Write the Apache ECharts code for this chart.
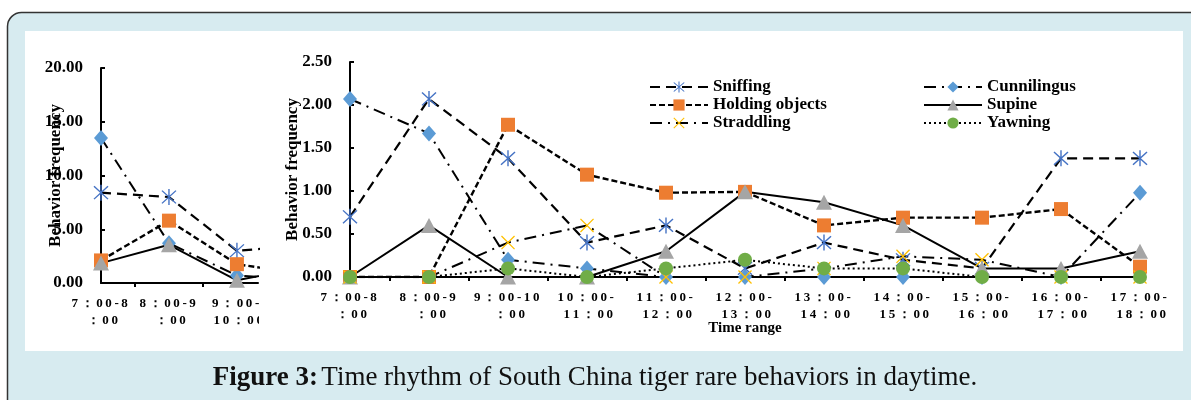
<!DOCTYPE html>
<html>
<head>
<meta charset="utf-8">
<script src="https://cdn.jsdelivr.net/npm/echarts@6/dist/echarts.min.js"></script>
<style>
  html, body { margin: 0; padding: 0; background: #fff; }
  #chart { width: 1191px; height: 400px; }
</style>
</head>
<body>
<div id="chart"></div>
<script>
/* time ranges on the x axis */
var cats = ['7：00-8\n：00', '8：00-9\n：00', '9：00-10\n：00', '10：00-\n11：00', '11：00-\n12：00',
    '12：00-\n13：00', '13：00-\n14：00', '14：00-\n15：00', '15：00-\n16：00', '16：00-\n17：00', '17：00-\n18：00'];
var leftCats = ['7：00-8\n：00', '8：00-9\n：00', '9：00-\n10：00'];

/* main chart (0 - 2.5) */
var sniffing    = [0.70, 2.07, 1.38, 0.40, 0.60, 0.10, 0.40, 0.20, 0.10, 1.38, 1.38];
var cunnilingus = [2.07, 1.67, 0.20, 0.10, 0, 0, 0, 0, 0, 0, 0.98];
var holding     = [0, 0, 1.77, 1.19, 0.98, 0.99, 0.60, 0.69, 0.69, 0.79, 0.12];
var supine      = [0, 0.60, 0, 0, 0.30, 0.99, 0.87, 0.60, 0.10, 0.10, 0.30];
var straddling  = [0, 0, 0.40, 0.60, 0, 0, 0.10, 0.24, 0.20, 0, 0];
var yawning     = [0, 0, 0.10, 0, 0.10, 0.20, 0.10, 0.10, 0, 0, 0];

/* cropped chart on the left (0 - 20) */
var leftSniffing    = [8.4, 8.0, 3.0, 3.5];
var leftCunnilingus = [13.5, 3.7, 0.7, 0.3];
var leftHolding     = [2.1, 5.8, 1.75, 0.8];
var leftSupine      = [1.85, 3.55, 0.25, 1.5];

var starPath = 'path://M9.2,0H10.8V20H9.2Z M2.57,1.43L18.57,17.43L17.43,18.57L1.43,2.57Z M17.43,1.43L18.57,2.57L2.57,18.57L1.43,17.43Z';
var crossPath = 'path://M1.43,2.57L2.57,1.43L18.57,17.43L17.43,18.57Z M17.43,1.43L18.57,2.57L2.57,18.57L1.43,17.43Z';

var serif = '"Liberation Serif", "Times New Roman", serif';

var styles = {
    'Sniffing': { symbol: starPath, size: [15, 16], color: '#4472C4', dash: [10, 6], width: 2.2 },
    'Cunnilingus': { symbol: 'diamond', size: [14, 16], color: '#5B9BD5', dash: [12, 6, 2, 6], width: 2 },
    'Holding objects': { symbol: 'rect', size: 14, color: '#ED7D31', dash: [6, 3], width: 2.4 },
    'Supine': { symbol: 'triangle', size: [16, 15], color: '#A5A5A5', dash: 'solid', width: 2 },
    'Straddling': { symbol: crossPath, size: 14, color: '#FFC000', dash: [12, 6, 2, 6], width: 2 },
    'Yawning': { symbol: 'circle', size: 14, color: '#70AD47', dash: [2, 3], width: 2 }
};

function pts(arr) {
    return arr.map(function (v, i) { return [i, v]; });
}

function mkSeries(name, arr, idx) {
    var s = styles[name];
    return {
        name: name,
        type: 'line',
        xAxisIndex: idx,
        yAxisIndex: idx,
        data: pts(arr),
        symbol: s.symbol,
        symbolSize: s.size,
        showAllSymbol: true,
        clip: true,
        itemStyle: { color: s.color },
        lineStyle: { color: '#000', type: s.dash, width: s.width },
        emphasis: { disabled: true }
    };
}

function labelFrom(list) {
    return function (v) {
        var i = Math.round(v);
        if (list[i] === undefined || Math.abs(v - i) > 0.01) return '';
        return list[i].split('').join('\u2009');
    };
}

function xAxisOf(idx, max, tickVals, labelVals, list) {
    return {
        type: 'value', gridIndex: idx, min: 0, max: max, interval: 1,
        splitLine: { show: false },
        axisLine: { lineStyle: { color: '#000', width: 2 } },
        axisTick: { show: true, customValues: tickVals, length: 4, lineStyle: { color: '#000', width: 2 } },
        axisLabel: {
            customValues: labelVals, formatter: labelFrom(list), margin: 12,
            color: '#000', fontFamily: serif, fontWeight: 'bold', fontSize: 13, lineHeight: 17
        }
    };
}

function yAxisOf(idx, max, interval, gap) {
    return {
        type: 'value', gridIndex: idx, min: 0, max: max, interval: interval,
        name: 'Behavior frequency', nameLocation: 'middle', nameGap: gap, nameRotate: 90,
        nameMoveOverlap: false,
        nameTextStyle: { color: '#000', fontFamily: serif, fontWeight: 'bold', fontSize: 17 },
        splitLine: { show: false },
        axisLine: { show: true, lineStyle: { color: '#000', width: 2 } },
        axisTick: { show: true, inside: true, length: 4, lineStyle: { color: '#000', width: 2 } },
        axisLabel: {
            margin: 18, color: '#000', fontFamily: serif, fontWeight: 'bold', fontSize: 17,
            formatter: function (v) { return v.toFixed(2); }
        }
    };
}

var mainTicks = [0.5, 1.5, 2.5, 3.5, 4.5, 5.5, 6.5, 7.5, 8.5, 9.5];
var mainLabels = [0, 1, 2, 3, 4, 5, 6, 7, 8, 9, 10];

var mainX = xAxisOf(1, 10, mainTicks, mainLabels, cats);
mainX.name = 'Time range';
mainX.nameLocation = 'middle';
mainX.nameGap = 44;
mainX.nameMoveOverlap = false;
mainX.nameTextStyle = { color: '#000', fontFamily: serif, fontWeight: 'bold', fontSize: 15 };

var legendText = { color: '#000', fontFamily: serif, fontWeight: 'bold', fontSize: 17, lineHeight: 18 };

var option = {
    animation: false,
    graphic: [
        {
            type: 'rect', z: -100, silent: true,
            shape: { x: 7.5, y: 12.5, width: 1230, height: 420, r: 14 },
            style: { fill: '#d7ebf0', stroke: '#333', lineWidth: 1.5 }
        },
        {
            type: 'rect', z: -99, silent: true,
            shape: { x: 25, y: 31, width: 1158, height: 320 },
            style: { fill: '#fff' }
        },
        {
            /* the left chart is cropped by the main one */
            type: 'rect', z: 100, silent: true,
            shape: { x: 259, y: 286, width: 20, height: 40 },
            style: { fill: '#fff' }
        },
        {
            type: 'text', silent: true, x: 595, y: 378,
            style: {
                text: '{b|Figure 3:} {n|Time rhythm of South China tiger rare behaviors in daytime.}',
                align: 'center', verticalAlign: 'middle',
                rich: {
                    b: { fontFamily: serif, fontWeight: 'bold', fontSize: 27, fill: '#111' },
                    n: { fontFamily: serif, fontSize: 27, fill: '#111' }
                }
            }
        }
    ],
    grid: [
        { left: 101, top: 68, width: 157, height: 215 },
        { left: 350, top: 62, width: 790, height: 215 }
    ],
    xAxis: [
        xAxisOf(0, 2.31, [0.5, 1.5], [0, 1, 2], leftCats),
        mainX
    ],
    yAxis: [
        yAxisOf(0, 20, 5, 37),
        yAxisOf(1, 2.5, 0.5, 49)
    ],
    legend: [
        {
            orient: 'vertical', left: 644, top: 73, itemWidth: 58, itemHeight: 14, itemGap: 0,
            selectedMode: false, textStyle: legendText,
            data: ['Sniffing', 'Holding objects', 'Straddling']
        },
        {
            orient: 'vertical', left: 918, top: 73, itemWidth: 58, itemHeight: 14, itemGap: 0,
            selectedMode: false, textStyle: legendText,
            data: ['Cunnilingus', 'Supine', 'Yawning']
        }
    ],
    series: [
        mkSeries('Sniffing', leftSniffing, 0),
        mkSeries('Cunnilingus', leftCunnilingus, 0),
        mkSeries('Holding objects', leftHolding, 0),
        mkSeries('Supine', leftSupine, 0),
        mkSeries('Sniffing', sniffing, 1),
        mkSeries('Cunnilingus', cunnilingus, 1),
        mkSeries('Holding objects', holding, 1),
        mkSeries('Supine', supine, 1),
        mkSeries('Straddling', straddling, 1),
        mkSeries('Yawning', yawning, 1)
    ]
};

var myChart = echarts.init(document.getElementById('chart'), null, { renderer: 'canvas' });
myChart.setOption(option);
</script>
</body>
</html>
